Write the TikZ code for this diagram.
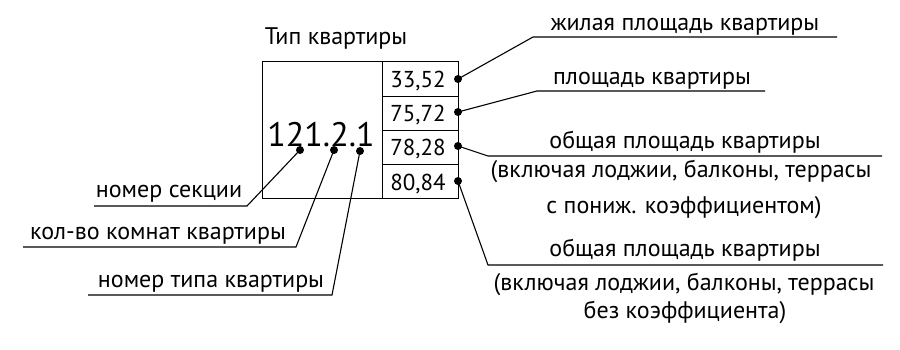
\documentclass[tikz,border=0pt]{standalone}
\usepackage{fontspec}
\setmainfont{PT Sans}
\begin{document}
\begin{tikzpicture}[x=1pt,y=-1pt,
  lbl/.style={anchor=base,inner sep=0pt,font=\fontsize{24}{28}\selectfont},
  num/.style={anchor=base,inner sep=0pt,font=\fontsize{23}{26}\selectfont},
  big/.style={anchor=base,inner sep=0pt,font=\fontsize{34}{38}\selectfont},
  frame/.style={line width=1pt},
  lead/.style={line width=1.1pt},
  dotm/.style={circle,fill=black,inner sep=0pt,minimum size=8pt}]
\useasboundingbox (0,0) rectangle (900,350);
% title
\node[lbl] (title) at (336,45) {Тип квартиры};
% box
\draw[frame] (262,62) rectangle (458,198);
\draw[frame] (382,62) -- (382,198);
\draw[frame] (382,97) -- (458,97);
\draw[frame] (382,131) -- (458,131);
\draw[frame] (382,165) -- (458,165);
\node[num] (n1) at (418,88) {33,52};
\node[num] (n2) at (418,122) {75,72};
\node[num] (n3) at (418,156) {78,28};
\node[num] (n4) at (418,190) {80,84};
\node[big] (code) at (321,147) {121.2.1};
% dots
\node[dotm] (d1) at (458,79) {};
\node[dotm] (d2) at (458,112) {};
\node[dotm] (d3) at (458,146) {};
\node[dotm] (d4) at (458,181) {};
\node[dotm] (s1) at (300,150) {};
\node[dotm] (s2) at (334,150) {};
\node[dotm] (s3) at (360,151) {};
% left labels
\node[lbl] (l1) at (169,197) {номер секции};
\node[lbl] (l2) at (158,240) {кол-во комнат квартиры};
\node[lbl] (l3) at (211,287) {номер типа квартиры};
\coordinate (l1a) at (94,206); \coordinate (l1b) at (247,206);
\coordinate (l2a) at (23,247); \coordinate (l2b) at (296,247);
\coordinate (l3a) at (88,295); \coordinate (l3b) at (332,295);
\draw[lead] (l1a) -- (l1b) -- (s1.center);
\draw[lead] (l2a) -- (l2b) -- (s2.center);
\draw[lead] (l3a) -- (l3b) -- (s3.center);
% right labels
\node[lbl] (r1) at (685,31) {жилая площадь квартиры};
\node[lbl] (r2) at (652,85) {площадь квартиры};
\node[lbl] (r3) at (685,149) {общая площадь квартиры};
\node[lbl] (r3b) at (681,178) {(включая лоджии, балконы, террасы};
\node[lbl] (r3c) at (684,213) {с пониж. коэффициентом)};
\node[lbl] (r4) at (685,256) {общая площадь квартиры};
\node[lbl] (r4b) at (684,290) {(включая лоджии, балконы, террасы};
\node[lbl] (r4c) at (685,318) {без коэффициента)};
\coordinate (r1a) at (533,37); \coordinate (r1b) at (837,37);
\coordinate (r2a) at (537,91); \coordinate (r2b) at (765,91);
\coordinate (r3a) at (488,156); \coordinate (r3b) at (882,156);
\coordinate (r4a) at (488,265); \coordinate (r4b) at (883,265);
\draw[lead] (d1.center) -- (r1a) -- (r1b);
\draw[lead] (d2.center) -- (r2a) -- (r2b);
\draw[lead] (d3.center) -- (r3a) -- (r3b);
\draw[lead] (d4.center) -- (r4a) -- (r4b);
\end{tikzpicture}
\end{document}
